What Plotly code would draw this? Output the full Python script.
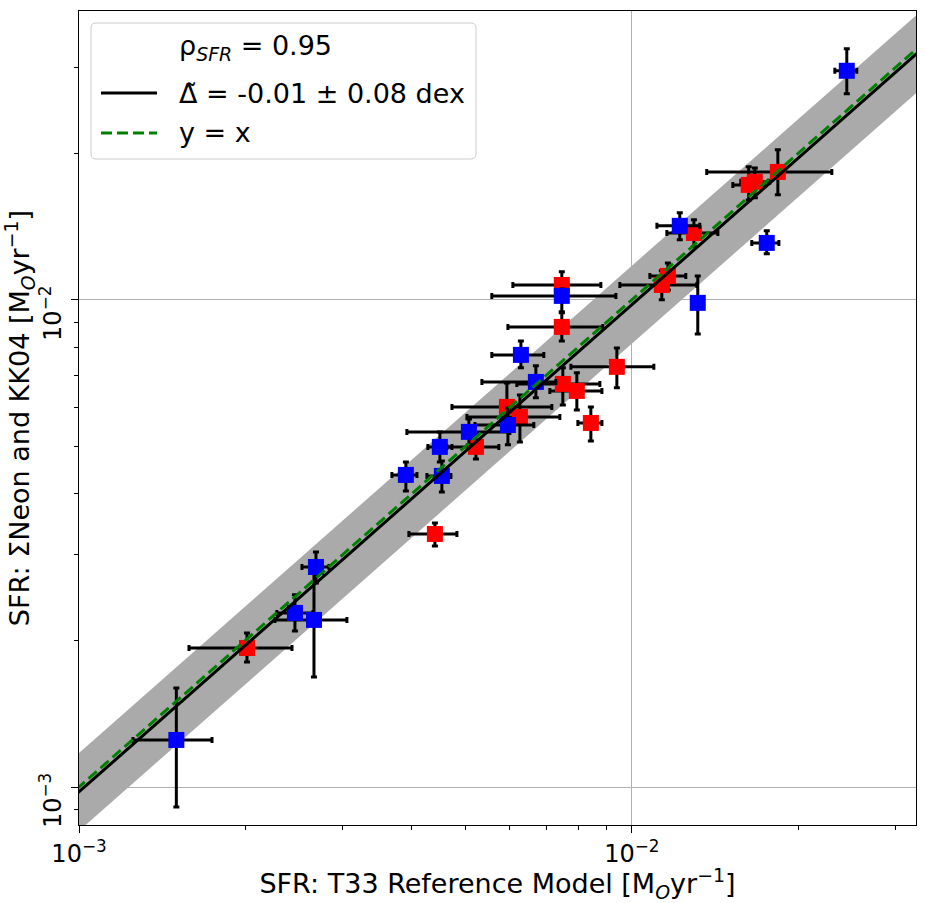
import plotly.graph_objects as go

# ---------------- data ----------------
# Blue sample: SFR T33 model (x) vs SFR Neon+KK04 (y), with error-bar ends
blue_x    = [1.50e-3, 2.458e-3, 2.661e-3, 2.683e-3, 3.902e-3, 4.495e-3, 4.533e-3, 5.073e-3,
             5.968e-3, 6.300e-3, 6.705e-3, 7.470e-3, 1.221e-2, 1.316e-2, 1.754e-2, 2.448e-2]
blue_x_lo = [1.252e-3, 2.280e-3, 2.262e-3, 2.531e-3, 3.681e-3, 4.276e-3, 4.259e-3, 3.918e-3,
             5.202e-3, 5.581e-3, 5.355e-3, 5.581e-3, 1.110e-2, 1.316e-2, 1.648e-2, 2.329e-2]
blue_x_hi = [1.740e-3, 2.649e-3, 3.052e-3, 2.832e-3, 4.086e-3, 4.727e-3, 4.707e-3, 6.017e-3,
             6.648e-3, 6.931e-3, 7.287e-3, 9.357e-3, 1.327e-2, 1.316e-2, 1.845e-2, 2.552e-2]
blue_y    = [1.249e-3, 2.277e-3, 2.203e-3, 2.829e-3, 4.372e-3, 4.991e-3, 4.351e-3, 5.358e-3,
             5.536e-3, 7.710e-3, 6.785e-3, 1.019e-2, 1.419e-2, 9.859e-3, 1.309e-2, 2.953e-2]
blue_y_lo = [9.10e-4, 2.091e-3, 1.682e-3, 2.624e-3, 4.053e-3, 4.649e-3, 4.034e-3, 5.039e-3,
             5.039e-3, 7.252e-3, 6.293e-3, 9.449e-3, 1.328e-2, 8.514e-3, 1.243e-2, 2.649e-2]
blue_y_hi = [1.597e-3, 2.480e-3, 2.829e-3, 3.037e-3, 4.649e-3, 5.358e-3, 4.670e-3, 5.695e-3,
             6.001e-3, 8.238e-3, 7.320e-3, 1.053e-2, 1.509e-2, 1.120e-2, 1.386e-2, 3.276e-2]

# Red sample
red_x    = [2.013e-3, 4.403e-3, 5.224e-3, 5.943e-3, 6.274e-3, 7.502e-3, 7.953e-3, 8.431e-3, 7.470e-3,
            7.470e-3, 9.395e-3, 1.133e-2, 1.162e-2, 1.295e-2, 1.627e-2, 1.669e-2, 1.837e-2]
red_x_lo = [1.581e-3, 3.951e-3, 4.629e-3, 4.727e-3, 5.031e-3, 6.194e-3, 7.107e-3, 7.987e-3, 6.092e-3,
            5.968e-3, 7.758e-3, 9.513e-3, 1.078e-2, 1.157e-2, 1.523e-2, 1.574e-2, 1.366e-2]
red_x_hi = [2.428e-3, 4.826e-3, 5.747e-3, 7.166e-3, 7.409e-3, 8.753e-3, 8.828e-3, 8.828e-3, 8.790e-3,
            8.862e-3, 1.096e-2, 1.311e-2, 1.252e-2, 1.431e-2, 1.740e-2, 1.776e-2, 2.300e-2]
red_y    = [1.929e-3, 3.307e-3, 4.991e-3, 6.030e-3, 5.750e-3, 6.721e-3, 6.503e-3, 5.589e-3, 1.073e-2,
            8.801e-3, 7.286e-3, 1.073e-2, 1.120e-2, 1.372e-2, 1.722e-2, 1.747e-2, 1.831e-2]
red_y_lo = [1.806e-3, 3.125e-3, 4.715e-3, 5.408e-3, 5.110e-3, 6.086e-3, 5.944e-3, 5.134e-3, 1.034e-2,
            8.238e-3, 6.597e-3, 1.000e-2, 1.048e-2, 1.285e-2, 1.604e-2, 1.620e-2, 1.643e-2]
red_y_hi = [2.071e-3, 3.484e-3, 5.307e-3, 6.753e-3, 6.381e-3, 7.252e-3, 7.083e-3, 6.030e-3, 1.142e-2,
            9.404e-3, 7.969e-3, 1.147e-2, 1.191e-2, 1.460e-2, 1.876e-2, 1.866e-2, 2.032e-2]

# Fit statistics
rho_sfr = 0.95
fit_offset = -0.01   # dex
fit_scatter = 0.08   # dex

# Axis ticks
x_tick_vals = [1e-3, 1e-2]
y_tick_vals = [1e-3, 1e-2]
tick_text = ["10<sup>\u22123</sup>", "10<sup>\u22122</sup>"]
minor_vals = [d * 10.0 ** e for e in (-4, -3, -2) for d in range(2, 10)]

x_range_log = [-3.0, -1.486]
y_range_log = [-3.078, -1.407]

# ---------------- figure ----------------
W, H = 925, 903
ML, MR, MT, MB = 79, 9, 11, 78
PW, PH = W - ML - MR, H - MT - MB

def px_x(p):  # pixel -> paper x
    return (p - ML) / PW

def px_y(p):  # pixel -> paper y
    return (H - MB - p) / PH

FONT = "DejaVu Sans"
fig = go.Figure()

# line extent (beyond axes, clipped by the plot area)
line_x = [10 ** (x_range_log[0] - 0.2), 10 ** (x_range_log[1] + 0.2)]
fit_y = [v * 10 ** fit_offset for v in line_x]
band_hi = [v * 10 ** (fit_offset + fit_scatter) for v in line_x]
band_lo = [v * 10 ** (fit_offset - fit_scatter) for v in line_x]

fig.add_trace(go.Scatter(x=line_x, y=band_lo, mode="lines", line=dict(width=0, color="darkgray"),
                         showlegend=False, hoverinfo="skip"))
fig.add_trace(go.Scatter(x=line_x, y=band_hi, mode="lines", line=dict(width=0, color="darkgray"),
                         fill="tonexty", fillcolor="#aaaaaa", showlegend=False, hoverinfo="skip"))


def err_trace(xs, xlo, xhi, ys, ylo, yhi, color):
    return go.Scatter(
        x=xs, y=ys, mode="markers",
        marker=dict(symbol="square", size=16, color=color, line=dict(width=0)),
        error_x=dict(type="data", symmetric=False,
                     array=[h - v for h, v in zip(xhi, xs)],
                     arrayminus=[v - l for v, l in zip(xs, xlo)],
                     color="black", thickness=3, width=3),
        error_y=dict(type="data", symmetric=False,
                     array=[h - v for h, v in zip(yhi, ys)],
                     arrayminus=[v - l for v, l in zip(ys, ylo)],
                     color="black", thickness=3, width=3),
        showlegend=False,
    )


fig.add_trace(err_trace(red_x, red_x_lo, red_x_hi, red_y, red_y_lo, red_y_hi, "#ff0000"))
fig.add_trace(err_trace(blue_x, blue_x_lo, blue_x_hi, blue_y, blue_y_lo, blue_y_hi, "#0000ff"))

fig.add_trace(go.Scatter(x=line_x, y=fit_y, mode="lines", line=dict(color="black", width=3),
                         showlegend=False, hoverinfo="skip"))
fig.add_trace(go.Scatter(x=line_x, y=line_x, mode="lines",
                         line=dict(color="green", width=3, dash="11px,5px"),
                         showlegend=False, hoverinfo="skip"))

# ---------------- manual legend ----------------
bx0, bx1, by0, by1 = px_x(91), px_x(476), px_y(159), px_y(23)
rx, ry = 5 / PW, 5 / PH
path = (f"M {bx0+rx},{by1} L {bx1-rx},{by1} Q {bx1},{by1} {bx1},{by1-ry} "
        f"L {bx1},{by0+ry} Q {bx1},{by0} {bx1-rx},{by0} L {bx0+rx},{by0} "
        f"Q {bx0},{by0} {bx0},{by0+ry} L {bx0},{by1-ry} Q {bx0},{by1} {bx0+rx},{by1} Z")
fig.add_shape(type="path", path=path, xref="paper", yref="paper",
              line=dict(color="#cccccc", width=1), fillcolor="rgba(255,255,255,0.8)", layer="above")

rows_y = [px_y(48), px_y(93), px_y(133)]
hx0, hx1 = px_x(101), px_x(157)
fig.add_shape(type="line", xref="paper", yref="paper", x0=hx0, x1=hx1, y0=rows_y[1], y1=rows_y[1],
              line=dict(color="black", width=3), layer="above")
fig.add_shape(type="line", xref="paper", yref="paper", x0=hx0, x1=hx1, y0=rows_y[2], y1=rows_y[2],
              line=dict(color="green", width=3, dash="11px,5px"), layer="above")

legend_texts = [
    f"\u03c1<sub><i>SFR</i></sub> = {rho_sfr:.2f}",
    f"\u0394\u0303 = {fit_offset:.2f} \u00b1 {fit_scatter:.2f} dex",
    "y = x",
]
for txt, yy in zip(legend_texts, rows_y):
    fig.add_annotation(text=txt, xref="paper", yref="paper", x=px_x(177), y=yy,
                       xanchor="left", yanchor="middle", showarrow=False,
                       font=dict(family=FONT, size=27, color="black"))

axis_common = dict(
    type="log", showline=True, linecolor="black", linewidth=1, mirror=True,
    ticks="outside", ticklen=7, tickwidth=1, tickcolor="black",
    showgrid=True, gridcolor="#b0b0b0", gridwidth=1, zeroline=False,
    tickmode="array", ticktext=tick_text,
    tickfont=dict(family=FONT, size=24, color="black"),
    minor=dict(tickmode="array", tickvals=minor_vals, ticks="outside", ticklen=4,
               tickwidth=1, tickcolor="black", showgrid=False),
)

fig.update_layout(
    width=W, height=H,
    margin=dict(l=ML, r=MR, t=MT, b=MB, autoexpand=False),
    paper_bgcolor="white", plot_bgcolor="white",
    font=dict(family=FONT, color="black"),
    showlegend=False,
    xaxis=dict(axis_common, range=x_range_log, tickvals=x_tick_vals,
               title=dict(text="SFR: T33 Reference Model [M<sub><i>O</i></sub>yr<sup>\u22121</sup>]",
                          font=dict(family=FONT, size=27, color="black"), standoff=0)),
    yaxis=dict(axis_common, range=y_range_log, tickvals=y_tick_vals, tickangle=-90,
               ticklabelshift=17,
               title=dict(text="SFR: \u03a3Neon and KK04 [M<sub><i>O</i></sub>yr<sup>\u22121</sup>]",
                          font=dict(family=FONT, size=27, color="black"), standoff=2)),
)

fig.write_html("out.html", config={"displayModeBar": False},
               post_script="document.body.style.margin='0';document.body.style.overflow='hidden';")
